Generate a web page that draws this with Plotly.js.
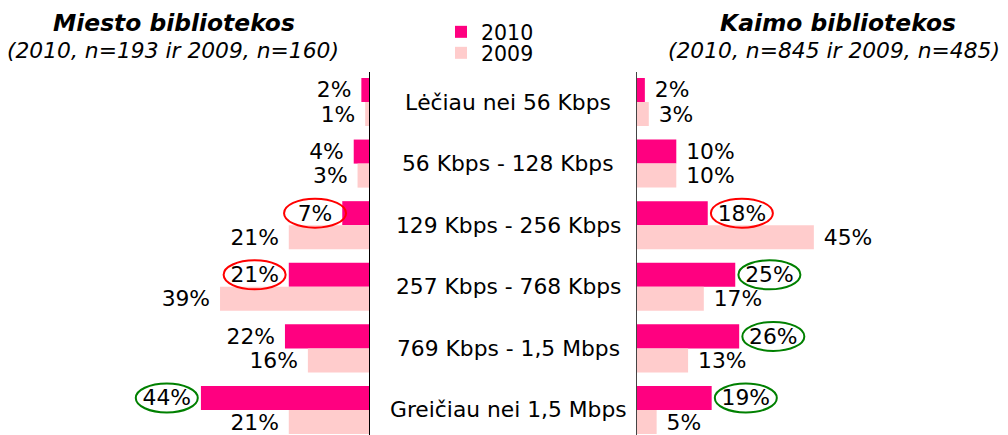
<!DOCTYPE html>
<html><head><meta charset="utf-8">
<script src="https://cdn.plot.ly/plotly-3.0.1.min.js"></script>
<style>html,body{margin:0;padding:0;background:#fff}#chart{width:1008px;height:435px}</style>
</head><body><div id="chart"></div>
<script>
const categories = ['Lėčiau nei 56 Kbps','56 Kbps - 128 Kbps','129 Kbps - 256 Kbps','257 Kbps - 768 Kbps','769 Kbps - 1,5 Mbps','Greičiau nei 1,5 Mbps'];
const seriesNames = ['2010','2009'];
const city2010 = [2,4,7,21,22,44];
const city2009 = [1,3,21,39,16,21];
const rural2010 = [2,10,18,25,26,19];
const rural2009 = [3,10,45,17,13,5];
const city2010Marks = [null,null,'red','red',null,'green'];
const rural2010Marks = [null,null,'red','green','green','green'];
const panelTitles = ['Miesto bibliotekos','Kaimo bibliotekos'];
const panelSubtitles = ['(2010, n=193 ir 2009, n=160)','(2010, n=845 ir 2009, n=485)'];

const FONT = 'DejaVu Sans, Verdana, sans-serif';
const FS = 21.8;
const C2010 = '#ff0080', C2009 = '#ffcccc';
const NB = '\u00a0';
const BARGAP = 0.22;

const cv = document.createElement('canvas').getContext('2d');
cv.font = FS + 'px "DejaVu Sans"';
const tw = s => cv.measureText(s).width;
const spaceW = tw(NB);

function barTrace(vals, name, color, side, xa, legend, show) {
  return {
    type: 'bar', orientation: 'h', y: categories, x: vals, name: name,
    marker: {color: color}, xaxis: xa, yaxis: side === 'left' ? 'y' : 'y2',
    text: vals.map(v => side === 'left' ? v + '%' + NB : NB + v + '%'),
    textposition: 'outside', cliponaxis: false, constraintext: 'none',
    textfont: {family: FONT, size: FS, color: '#000'},
    legend: legend, showlegend: show, hoverinfo: 'skip'
  };
}

const data = [
  barTrace(city2010, seriesNames[0], C2010, 'left', 'x', 'legend', true),
  barTrace(city2009, seriesNames[1], C2009, 'left', 'x', 'legend2', true),
  barTrace(rural2010, seriesNames[0], C2010, 'right', 'x2', 'legend', false),
  barTrace(rural2009, seriesNames[1], C2009, 'right', 'x2', 'legend2', false)
];

const shapes = [];
function marks(vals, cols, dir, xref) {
  vals.forEach((v, i) => {
    if (!cols[i]) return;
    const c = dir * (3 + spaceW + tw(v + '%') / 2);
    shapes.push({
      type: 'circle', xref: xref, yref: 'y', xsizemode: 'pixel', ysizemode: 'pixel',
      xanchor: v, yanchor: i - (1 - BARGAP) / 4,
      x0: c - 31, x1: c + 31, y0: -14.5, y1: 14.5,
      line: {color: cols[i], width: 2}
    });
  });
}
marks(city2010, city2010Marks, -1, 'x');
marks(rural2010, rural2010Marks, 1, 'x2');

const annotations = [];
categories.forEach((c, i) => annotations.push({
  text: c, xref: 'paper', yref: 'y', x: 508/1008, y: i, xanchor: 'center', yanchor: 'middle',
  showarrow: false, font: {family: FONT, size: FS, color: '#000'}
}));
const titleX = [174/1008, 838/1008], subX = [173/1008, 834/1008];
panelTitles.forEach((t, k) => {
  annotations.push({text: '<b><i>' + t + '</i></b>', xref: 'paper', yref: 'paper', x: titleX[k], y: 1 + 49/363,
    xanchor: 'center', yanchor: 'middle', showarrow: false, font: {family: FONT, size: 23.4, color: '#000'}});
  annotations.push({text: '<i>' + panelSubtitles[k] + '</i>', xref: 'paper', yref: 'paper', x: subX[k], y: 1 + 21/363,
    xanchor: 'center', yanchor: 'middle', showarrow: false, font: {family: FONT, size: FS, color: '#000'}});
});

const hidden = {showgrid: false, zeroline: false, showticklabels: false, ticks: '', showline: false, fixedrange: true};
const legBase = {font: {family: FONT, size: 20.5, color: '#000'}, bgcolor: 'rgba(0,0,0,0)', xanchor: 'left', yanchor: 'middle', x: 441/1008};

const layout = {
  width: 1008, height: 435,
  margin: {l: 0, r: 0, t: 72, b: 0, pad: 0},
  paper_bgcolor: '#fff', plot_bgcolor: 'rgba(0,0,0,0)',
  barmode: 'group', bargap: BARGAP, bargroupgap: 0,
  showlegend: true,
  xaxis: Object.assign({domain: [0, 369/1008], range: [96.6, 0]}, hidden),
  xaxis2: Object.assign({domain: [637/1008, 1], range: [0, 94.4]}, hidden),
  yaxis: {anchor: 'x', side: 'right', type: 'category', categoryarray: categories, categoryorder: 'array',
    range: [5.406, -0.487], showline: true, linecolor: '#000', linewidth: 1, showgrid: false, zeroline: false,
    showticklabels: false, ticks: '', fixedrange: true},
  yaxis2: {anchor: 'x2', side: 'left', matches: 'y', type: 'category', categoryarray: categories, categoryorder: 'array',
    range: [5.406, -0.487], showline: true, linecolor: '#444', linewidth: 1, showgrid: false, zeroline: false,
    showticklabels: false, ticks: '', fixedrange: true},
  legend: Object.assign({y: 1 + 40/363}, legBase),
  legend2: Object.assign({y: 1 + 19/363}, legBase),
  annotations: annotations,
  shapes: shapes,
  hovermode: false
};

Plotly.newPlot('chart', data, layout, {displayModeBar: false, staticPlot: true});
</script>
</body></html>
